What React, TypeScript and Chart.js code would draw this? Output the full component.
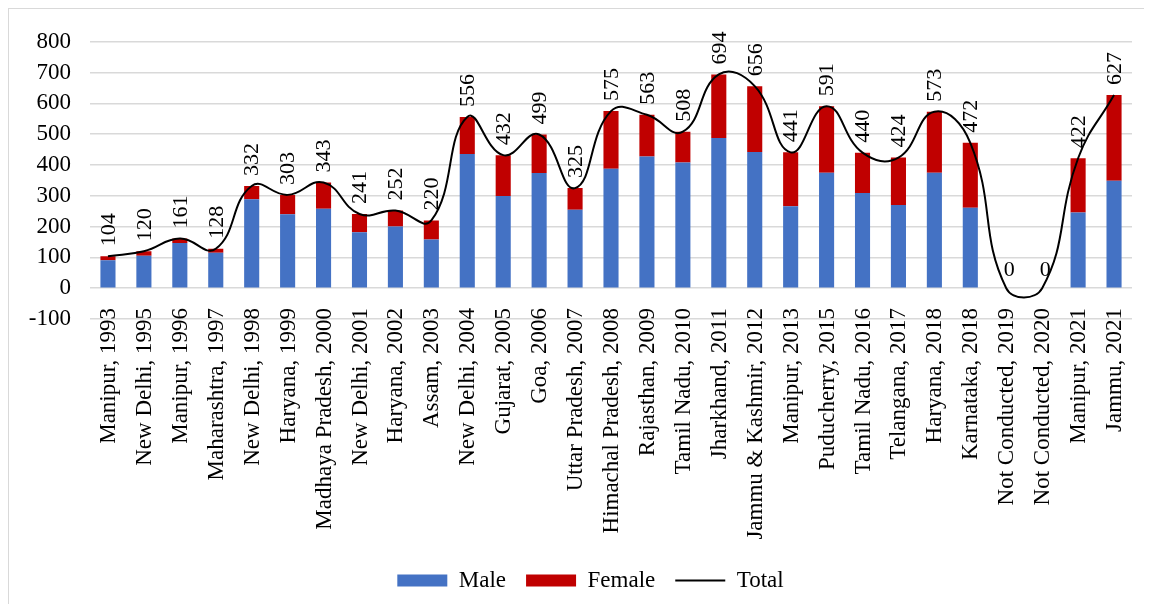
import React, { useEffect, useRef } from "react";
import { Chart, registerables } from "chart.js";

Chart.register(...registerables);

const categories = [
  "Manipur, 1993", "New Delhi, 1995", "Manipur, 1996", "Maharashtra, 1997", "New Delhi, 1998",
  "Haryana, 1999", "Madhaya Pradesh, 2000", "New Delhi, 2001", "Haryana, 2002", "Assam, 2003",
  "New Delhi, 2004", "Gujarat, 2005", "Goa, 2006", "Uttar Pradesh, 2007", "Himachal Pradesh, 2008",
  "Rajasthan, 2009", "Tamil Nadu, 2010", "Jharkhand, 2011", "Jammu & Kashmir, 2012", "Manipur, 2013",
  "Puducherry, 2015", "Tamil Nadu, 2016", "Telangana, 2017", "Haryana, 2018", "Karnataka, 2018",
  "Not Conducted, 2019", "Not Conducted, 2020", "Manipur, 2021", "Jammu, 2021",
];

const maleValues = [
  91, 105, 147, 115, 289, 240, 258, 182, 200, 158, 436, 299, 374, 255, 388,
  428, 408, 488, 442, 266, 375, 309, 270, 375, 261, 0, 0, 246, 349,
];

const femaleValues = [
  13, 15, 14, 13, 43, 63, 85, 59, 52, 62, 120, 133, 125, 70, 187,
  135, 100, 206, 214, 175, 216, 131, 154, 198, 211, 0, 0, 176, 278,
];

const totalValues = [
  104, 120, 161, 128, 332, 303, 343, 241, 252, 220, 556, 432, 499, 325, 575,
  563, 508, 694, 656, 441, 591, 440, 424, 573, 472, 0, 0, 422, 627,
];

const yMin = -100;
const yMax = 800;
const yStep = 100;

const FONT = '"Liberation Serif", "Times New Roman", serif';
const X_LIFT = 40;

export default function App() {
  const ref = useRef<HTMLCanvasElement | null>(null);

  useEffect(() => {
    if (!ref.current) return;

    const totalLabels = {
      id: "totalLabels",
      afterDatasetsDraw(chart: any) {
        const meta = chart.getDatasetMeta(2);
        const ctx = chart.ctx;
        ctx.save();
        ctx.font = `22px ${FONT}`;
        ctx.fillStyle = "#000";
        meta.data.forEach((pt: any, i: number) => {
          const v = totalValues[i];
          ctx.save();
          if (v === 0) {
            ctx.textAlign = "center";
            ctx.textBaseline = "bottom";
            ctx.fillText(String(v), pt.x + 3, pt.y - 7);
          } else {
            ctx.textAlign = "left";
            ctx.textBaseline = "middle";
            ctx.translate(pt.x + 1, pt.y - 10);
            ctx.rotate(-Math.PI / 2);
            ctx.fillText(String(v), 0, 0);
          }
          ctx.restore();
        });
        ctx.restore();
      },
    };

    const liftAxis = {
      id: "liftAxis",
      afterLayout(chart: any) {
        const x = chart.scales.x;
        x.top = x.top - X_LIFT;
        if (chart.legend) {
          chart.legend.left += 20;
          chart.legend.right += 20;
        }
      },
    };

    const chart = new Chart(ref.current, {
      type: "bar",
      data: {
        labels: categories,
        datasets: [
          {
            type: "bar",
            label: "Male",
            data: maleValues,
            backgroundColor: "#4472C4",
            stack: "g",
            order: 1,
            barPercentage: 0.42,
            categoryPercentage: 1,
          },
          {
            type: "bar",
            label: "Female",
            data: femaleValues,
            backgroundColor: "#C00000",
            stack: "g",
            order: 1,
            barPercentage: 0.42,
            categoryPercentage: 1,
          },
          {
            type: "line",
            label: "Total",
            data: totalValues,
            borderColor: "#000",
            backgroundColor: "#000",
            borderWidth: 2,
            pointRadius: 0,
            tension: 0.45,
            fill: false,
            stack: "t",
            order: 0,
          } as any,
        ],
      },
      plugins: [totalLabels, liftAxis],
      options: {
        animation: false,
        responsive: false,
        layout: { padding: { top: 27, right: 12, left: 0, bottom: 2 } },
        plugins: {
          tooltip: { enabled: false },
          legend: {
            position: "bottom",
            labels: {
              font: { family: FONT, size: 23 },
              color: "#000",
              usePointStyle: true,
              pointStyleWidth: 50,
              boxHeight: 12,
              padding: 20,
              sort: (a: any, b: any) => a.datasetIndex - b.datasetIndex,
              generateLabels: (c: any) => {
                const items = (Chart as any).defaults.plugins.legend.labels.generateLabels(c);
                return items.map((it: any) => {
                  const isLine = it.datasetIndex === 2;
                  return {
                    ...it,
                    pointStyle: isLine ? "line" : "rect",
                    lineWidth: isLine ? 2 : 0,
                    strokeStyle: isLine ? "#000" : it.fillStyle,
                  };
                });
              },
            },
          },
        },
        scales: {
          x: {
            stacked: true,
            grid: { display: false, drawTicks: false },
            border: { display: false },
            ticks: {
              font: { family: FONT, size: 23 },
              color: "#000",
              minRotation: 90,
              maxRotation: 90,
              autoSkip: false,
              padding: X_LIFT - 11,
              labelOffset: 1,
            },
            afterFit: (s: any) => {
              s.height = 230;
              s.paddingRight = 0;
              s.paddingLeft = 0;
            },
          },
          y: {
            stacked: true,
            min: yMin,
            max: yMax,
            grid: { color: "#d9d9d9", lineWidth: 1.5, drawTicks: false },
            border: { display: false },
            ticks: {
              stepSize: yStep,
              autoSkip: false,
              font: { family: FONT, size: 23 },
              color: "#000",
              padding: 19,
            },
            afterFit: (s: any) => {
              s.width = 81;
            },
          },
        },
      },
    });

    return () => chart.destroy();
  }, []);

  return (
    <div
      style={{
        width: 1135,
        height: 595,
        borderTop: "1px solid #d9d9d9",
        borderLeft: "1px solid #d9d9d9",
      }}
    >
      <canvas ref={ref} width={1135} height={595} style={{ display: "block", width: 1135, height: 595 }} />
    </div>
  );
}
